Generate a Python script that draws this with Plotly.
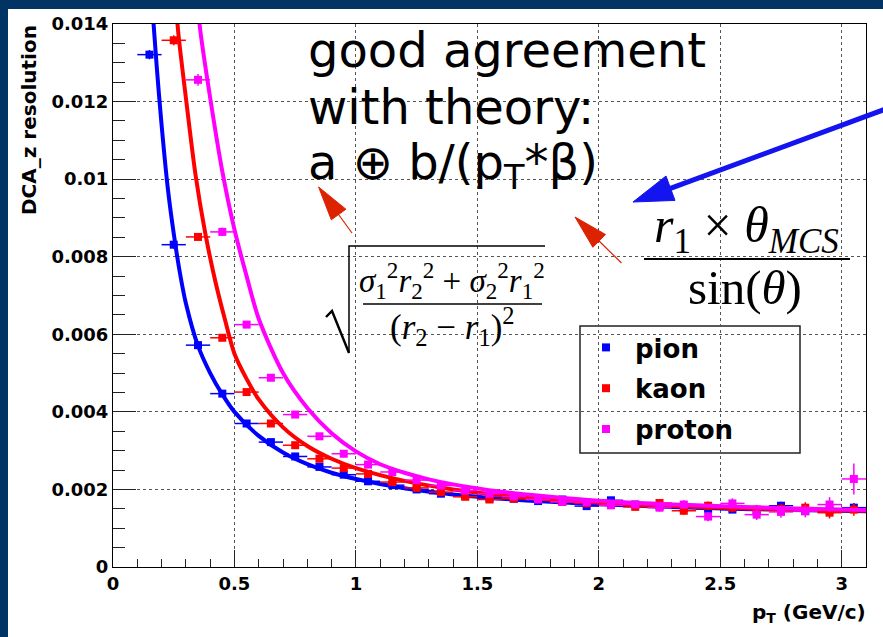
import plotly.graph_objects as go

# ---------------- data ----------------
pt_bins = [0.15, 0.25, 0.35, 0.45, 0.55, 0.65, 0.75, 0.85, 0.95, 1.05,
           1.15, 1.25, 1.35, 1.45, 1.55, 1.65, 1.75, 1.85, 1.95, 2.05,
           2.15, 2.25, 2.35, 2.45, 2.55, 2.65, 2.75, 2.85, 2.95, 3.05]
bin_half_width = 0.05

pion_pt = pt_bins
pion_sigma = [0.01321, 0.00831, 0.00572, 0.00447, 0.00370, 0.00322, 0.00285, 0.00258, 0.00238, 0.00221,
              0.00211, 0.00200, 0.00189, 0.00184, 0.00177, 0.00176, 0.00170, 0.00174, 0.00157, 0.00172,
              0.00161, 0.00157, 0.00152, 0.00150, 0.00148, 0.00146, 0.00158, 0.00144, 0.00146, 0.00153]
pion_err = [0.00012, 0.00010, 0.00008, 0.00007, 0.00006, 0.00005, 0.00005, 0.00005, 0.00004, 0.00004,
            0.00004, 0.00004, 0.00004, 0.00004, 0.00005, 0.00005, 0.00005, 0.00006, 0.00006, 0.00006,
            0.00007, 0.00007, 0.00008, 0.00008, 0.00009, 0.00009, 0.00010, 0.00010, 0.00011, 0.00012]

kaon_pt = pt_bins[1:]
kaon_sigma = [0.01358, 0.00851, 0.00591, 0.00451, 0.00370, 0.00314, 0.00279, 0.00255, 0.00240,
              0.00219, 0.00204, 0.00193, 0.00181, 0.00174, 0.00176, 0.00176, 0.00168, 0.00164, 0.00161,
              0.00155, 0.00165, 0.00145, 0.00158, 0.00153, 0.00148, 0.00150, 0.00153, 0.00140, 0.00148]
kaon_err = [0.00013, 0.00010, 0.00008, 0.00006, 0.00005, 0.00005, 0.00005, 0.00005, 0.00005,
            0.00005, 0.00005, 0.00005, 0.00006, 0.00006, 0.00006, 0.00007, 0.00007, 0.00008, 0.00008,
            0.00009, 0.00010, 0.00010, 0.00011, 0.00012, 0.00012, 0.00013, 0.00014, 0.00015, 0.00016]

proton_pt = pt_bins[2:]
proton_sigma = [0.01256, 0.00864, 0.00625, 0.00488, 0.00393, 0.00337, 0.00292, 0.00264,
                0.00245, 0.00224, 0.00210, 0.00197, 0.00189, 0.00182, 0.00174, 0.00168, 0.00167, 0.00159,
                0.00161, 0.00153, 0.00161, 0.00130, 0.00164, 0.00135, 0.00142, 0.00144, 0.00161, 0.00227]
proton_err = [0.00015, 0.00011, 0.00009, 0.00007, 0.00006, 0.00006, 0.00005, 0.00005,
              0.00005, 0.00005, 0.00005, 0.00006, 0.00006, 0.00006, 0.00007, 0.00007, 0.00008, 0.00008,
              0.00009, 0.00010, 0.00011, 0.00012, 0.00013, 0.00014, 0.00015, 0.00016, 0.00019, 0.00040]

# fitted resolution curves, a (+) b/(pT*beta)
pion_fit_pt = [0.160, 0.180, 0.200, 0.225, 0.250, 0.275, 0.300, 0.350, 0.400, 0.450, 0.500,
               0.600, 0.700, 0.800, 0.900, 1.000, 1.200, 1.400, 1.600, 1.800, 2.000, 2.400, 2.800, 3.100]
pion_fit_sigma = [0.01460, 0.01290, 0.01140, 0.00980, 0.00860, 0.00760, 0.00680, 0.00570, 0.00500,
                  0.00445, 0.00400, 0.00338, 0.00295, 0.00265, 0.00243, 0.00227, 0.00203, 0.00187,
                  0.00176, 0.00168, 0.00162, 0.00153, 0.00147, 0.00144]

kaon_fit_pt = [0.255, 0.270, 0.300, 0.340, 0.380, 0.420, 0.460, 0.500, 0.550, 0.600, 0.700,
               0.800, 0.900, 1.000, 1.200, 1.400, 1.600, 1.800, 2.000, 2.400, 2.800, 3.100]
kaon_fit_sigma = [0.01480, 0.01370, 0.01210, 0.01010, 0.00860, 0.00740, 0.00640, 0.00550, 0.00485,
                  0.00432, 0.00360, 0.00312, 0.00279, 0.00255, 0.00222, 0.00200, 0.00185, 0.00174,
                  0.00166, 0.00155, 0.00148, 0.00145]

proton_fit_pt = [0.340, 0.360, 0.400, 0.450, 0.500, 0.550, 0.600, 0.700, 0.800, 0.900, 1.000,
                 1.100, 1.200, 1.300, 1.400, 1.600, 1.800, 2.000, 2.400, 2.800, 3.100]
proton_fit_sigma = [0.01500, 0.01380, 0.01210, 0.01020, 0.00870, 0.00750, 0.00640, 0.00500, 0.00410,
                    0.00345, 0.00298, 0.00265, 0.00243, 0.00226, 0.00213, 0.00194, 0.00181, 0.00171,
                    0.00159, 0.00151, 0.00147]

species = [
    ("pion", "#0000ff", pion_pt, pion_sigma, pion_err, pion_fit_pt, pion_fit_sigma),
    ("kaon", "#ff0000", kaon_pt, kaon_sigma, kaon_err, kaon_fit_pt, kaon_fit_sigma),
    ("proton", "#ff00ff", proton_pt, proton_sigma, proton_err, proton_fit_pt, proton_fit_sigma),
]

# ---------------- geometry helpers (pixel -> paper) ----------------
W_FIG, H_FIG = 883, 637
L, T, R, B = 113, 24, 17, 70
PW, PH = W_FIG - L - R, H_FIG - T - B


def px(x):
    return (x - L) / PW


def py(y):
    return (T + PH - y) / PH


def path(points, closed=False):
    s = "M " + " L ".join(f"{px(x):.5f},{py(y):.5f}" for x, y in points)
    return s + (" Z" if closed else "")


# ---------------- figure ----------------
fig = go.Figure()

for name, color, xs, ys, errs, fx, fy in species:
    fig.add_trace(go.Scatter(
        x=fx, y=fy, mode="lines", line=dict(color=color, width=4, shape="spline", smoothing=0.8),
        legendgroup=name, showlegend=False, hoverinfo="skip"))
    fig.add_trace(go.Scatter(
        x=xs, y=ys, mode="markers", name=name, legendgroup=name,
        marker=dict(symbol="square", size=8, color=color),
        error_x=dict(type="constant", value=bin_half_width, color=color, thickness=1.5, width=0),
        error_y=dict(type="data", array=errs, color=color, thickness=1.5, width=0)))

axis_font = dict(family="DejaVu Sans", size=18, color="black", weight="bold")
common_axis = dict(
    showline=True, linecolor="black", linewidth=1, mirror=True, zeroline=False,
    showgrid=True, gridcolor="#555555", griddash="dot", gridwidth=1,
    ticks="inside", tickcolor="#222222", tickwidth=1, tickfont=axis_font,
)
fig.update_xaxes(range=[0, 3.1], tick0=0, dtick=0.5, ticklen=17,
                 minor=dict(dtick=0.1, ticklen=8, ticks="inside", tickcolor="#222222", showgrid=False),
                 **common_axis)
fig.update_yaxes(range=[0, 0.014], tick0=0, dtick=0.002, ticklen=23,
                 minor=dict(dtick=0.0005, ticklen=12, ticks="inside", tickcolor="#222222", showgrid=False),
                 **common_axis)

navy = "#013464"
shapes = [
    # slide border
    dict(type="rect", xref="paper", yref="paper", x0=px(-5), x1=px(8), y0=py(650), y1=py(-5),
         fillcolor=navy, line=dict(width=0), layer="above"),
    dict(type="rect", xref="paper", yref="paper", x0=px(-5), x1=px(890), y0=py(9), y1=py(-5),
         fillcolor=navy, line=dict(width=0), layer="above"),
    # white panels behind the formulas
    dict(type="rect", xref="paper", yref="paper", x0=px(323), x1=px(547), y0=py(358), y1=py(238),
         fillcolor="white", line=dict(width=0), layer="between"),
    dict(type="rect", xref="paper", yref="paper", x0=px(623), x1=px(855), y0=py(320), y1=py(205),
         fillcolor="white", line=dict(width=0), layer="between"),
    # legend frame
    dict(type="rect", xref="paper", yref="paper", x0=px(580), x1=px(800), y0=py(453), y1=py(326),
         fillcolor="white", line=dict(color="#222222", width=1.5), layer="between"),
    # fraction bars and radical
    dict(type="line", xref="paper", yref="paper", x0=px(644), x1=px(850), y0=py(259), y1=py(259),
         line=dict(color="black", width=2), layer="above"),
    dict(type="line", xref="paper", yref="paper", x0=px(363), x1=px(542), y0=py(304), y1=py(304),
         line=dict(color="black", width=1.5), layer="above"),
    dict(type="path", xref="paper", yref="paper",
         path=path([(326, 317), (332, 311), (349, 353)]),
         line=dict(color="black", width=2.4), layer="above"),
    dict(type="path", xref="paper", yref="paper",
         path=path([(349, 353), (349, 246), (545, 246)]),
         line=dict(color="black", width=1.5), layer="above"),
    # blue arrow
    dict(type="path", xref="paper", yref="paper", path=path([(665, 190.3), (905, 101.9)]),
         line=dict(color="#1414f0", width=5), layer="above"),
    dict(type="path", xref="paper", yref="paper", path=path([(633, 202), (675, 200.4), (666, 176)], True),
         fillcolor="#1414f0", line=dict(color="#1414f0", width=1), layer="above"),
    # red arrows
    dict(type="path", xref="paper", yref="paper", path=path([(336, 211), (352, 233)]),
         line=dict(color="#dd2200", width=1.2), layer="above"),
    dict(type="path", xref="paper", yref="paper",
         path=path([(318.6, 187), (345.9, 209.2), (331.3, 219.8)], True),
         fillcolor="#dd2200", line=dict(color="#dd2200", width=1), layer="above"),
    dict(type="path", xref="paper", yref="paper", path=path([(597, 239), (621.5, 263)]),
         line=dict(color="#dd2200", width=1.2), layer="above"),
    dict(type="path", xref="paper", yref="paper",
         path=path([(575, 217), (605.5, 234.5), (592.9, 247.3)], True),
         fillcolor="#dd2200", line=dict(color="#dd2200", width=1), layer="above"),
]


def note(text, x, y, size, family="DejaVu Sans", xanchor="left", yanchor="top", weight="normal", angle=0):
    return dict(text=text, xref="paper", yref="paper", x=px(x), y=py(y), xanchor=xanchor, yanchor=yanchor,
                showarrow=False, borderpad=0, borderwidth=0, textangle=angle,
                font=dict(family=family, size=size, color="black", weight=weight))


serif = "Liberation Serif"
annotations = [
    note("good agreement", 308, 22, 48),
    note("with theory:", 308, 79, 48),
    note("a ⊕ b/(p<sub>T</sub>*β)", 308, 134, 48),
    note("<i>r</i><sub>1</sub> × <i>θ</i><sub><i>MCS</i></sub>", 746, 229, 50, serif, "center", "middle"),
    note("sin(<i>θ</i>)", 745, 287, 49, serif, "center", "middle"),
    note("<i>σ</i><sub>1</sub><sup>2</sup><i>r</i><sub>2</sub><sup>2</sup> + "
         "<i>σ</i><sub>2</sub><sup>2</sup><i>r</i><sub>1</sub><sup>2</sup>", 452, 280, 33, serif, "center", "middle"),
    note("(<i>r</i><sub>2</sub> − <i>r</i><sub>1</sub>)<sup>2</sup>", 452, 326, 35, serif, "center", "middle"),
    note("DCA_z resolution", 29, 25, 20, xanchor="center", yanchor="top", weight="bold", angle=-90),
    note("p<sub>T</sub> (GeV/c)", 866, 600, 20, xanchor="right", yanchor="top", weight="bold"),
]

fig.update_layout(
    width=W_FIG, height=H_FIG,
    margin=dict(l=L, r=R, t=T, b=B),
    paper_bgcolor="white", plot_bgcolor="white",
    font=dict(family="DejaVu Sans", color="black"),
    shapes=shapes, annotations=annotations,
    showlegend=True,
    legend=dict(x=px(577), y=py(324), xanchor="left", yanchor="top",
                bgcolor="rgba(0,0,0,0)", borderwidth=0, itemwidth=48, tracegroupgap=4,
                font=dict(family="DejaVu Sans", size=26, color="black", weight="bold")),
)

fig.write_html("out.html")
